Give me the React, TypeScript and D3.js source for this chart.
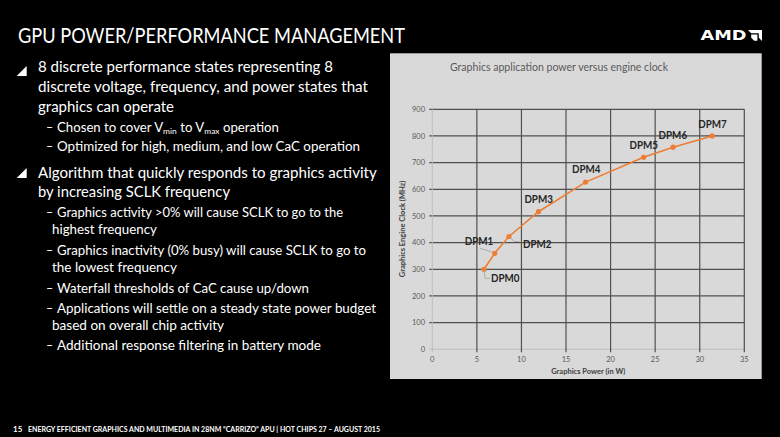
import React from "react";
import * as d3 from "d3";

// ---- Data ----
const states = ["DPM0", "DPM1", "DPM2", "DPM3", "DPM4", "DPM5", "DPM6", "DPM7"];
const powerW = [5.8, 7.0, 8.6, 11.9, 17.2, 23.7, 27.0, 31.4];
const clockMHz = [300, 360, 423, 516, 627, 720, 758, 800];
const xTicks = [0, 5, 10, 15, 20, 25, 30, 35];
const yTicks = [0, 100, 200, 300, 400, 500, 600, 700, 800, 900];

const chartTitle = "Graphics application power versus engine clock";
const xAxisTitle = "Graphics Power (in W)";
const yAxisTitle = "Graphics Engine Clock (MHz)";
const slideTitle = "GPU POWER/PERFORMANCE MANAGEMENT";
const footer = "ENERGY EFFICIENT GRAPHICS AND MULTIMEDIA IN 28NM \u201CCARRIZO\u201D APU | HOT CHIPS 27 \u2013 AUGUST 2015";

// label placement (layout, px offsets from the point)
const labelLayout = [
  { dx: 7, dy: 9.5, leader: [[0, 0], [1, 9], [6, 9]] },
  { dx: -30, dy: -12, leader: [[-15, -5], [-3, -1.3]] },
  { dx: 14, dy: 8, leader: [[1.5, 1.5], [5.5, 5], [10.5, 5]] },
  { dx: -14, dy: -12, leader: null },
  { dx: -13.7, dy: -12.4, leader: null },
  { dx: -14, dy: -11.7, leader: null },
  { dx: -14.4, dy: -11.7, leader: null },
  { dx: -14, dy: -11.7, leader: null },
];

const FONT = "Lato, 'Open Sans', sans-serif";

export default function App() {
  const W = 780, H = 437;
  const x = d3.scaleLinear().domain([0, 35]).range([432.3, 744.3]);
  const y = d3.scaleLinear().domain([0, 900]).range([349.3, 109.3]);
  const pts = powerW.map((p, i) => [x(p), y(clockMHz[i])] as [number, number]);
  const line = d3.line()(pts) || "";

  const mainLines = [
    { t: "8 discrete performance states representing 8", y: 71.7, w: 295 },
    { t: "discrete voltage, frequency, and power states that", y: 91.7, w: 330 },
    { t: "graphics can operate", y: 111.7, w: 136 },
    { t: "Algorithm that quickly responds to graphics activity", y: 177.5, w: 338.7 },
    { t: "by increasing SCLK frequency", y: 197, w: 192 },
  ];
  const subLines = [
    { t: "Optimized for high, medium, and low CaC operation", y: 151, w: 303, dash: true },
    { t: "Graphics activity >0% will cause SCLK to go to the", y: 217.3, w: 286, dash: true },
    { t: "highest frequency", y: 234.3, w: 105, dash: false },
    { t: "Graphics inactivity (0% busy) will cause SCLK to go to", y: 255, w: 309, dash: true },
    { t: "the lowest frequency", y: 271.7, w: 125, dash: false },
    { t: "Waterfall thresholds of CaC cause up/down", y: 292.7, w: 252, dash: true },
    { t: "Applications will settle on a steady state power budget", y: 312.7, w: 319, dash: true },
    { t: "based on overall chip activity", y: 330, w: 172, dash: false },
    { t: "Additional response filtering in battery mode", y: 350, w: 264, dash: true },
  ];

  return (
    <div style={{ position: "fixed", left: 0, top: 0 }}>
      <svg width={W} height={H} viewBox={`0 0 ${W} ${H}`} style={{ display: "block" }}>
        <rect width={W} height={H} fill="#000" />
        {/* slide title */}
        <text x={18} y={43} fill="#fff" fontFamily={FONT} fontSize={21} textLength={387} lengthAdjust="spacingAndGlyphs">
          {slideTitle}
        </text>
        {/* AMD logo */}
        <text x={700.5} y={40} fill="#fff" fontFamily="'DejaVu Sans', sans-serif" fontWeight="bold" fontSize={13.5} textLength={46} lengthAdjust="spacingAndGlyphs">
          AMD
        </text>
        <path d="M748,30 H762 V41 L758.8,37.8 V33.2 H751.2 Z" fill="#fff" />
        <path d="M751.2,34.6 H757.4 V40.8 H754.2 L751.2,37.8 Z" fill="#fff" />

        {/* bullets */}
        <path d="M16.7,76 L26.7,76 L26.7,66 Z" fill="#fff" />
        <path d="M16.7,178 L26.7,178 L26.7,168 Z" fill="#fff" />
        {mainLines.map((l, i) => (
          <text key={i} x={38} y={l.y} fill="#fff" fontFamily={FONT} fontSize={15} textLength={l.w} lengthAdjust="spacingAndGlyphs">
            {l.t}
          </text>
        ))}
        <text x={46} y={131.7} fill="#fff" fontFamily={FONT} fontSize={12.5}>{"\u2013"}</text>
        <text x={57} y={131.7} fill="#fff" fontFamily={FONT} fontSize={12.5} textLength={222} lengthAdjust="spacingAndGlyphs">
          Chosen to cover V<tspan fontSize={8} dy={2.5}>min</tspan><tspan dy={-2.5}> to V</tspan><tspan fontSize={8} dy={2.5}>max</tspan><tspan dy={-2.5}> operation</tspan>
        </text>
        {subLines.map((l, i) => (
          <g key={i}>
            {l.dash && (
              <text x={46} y={l.y} fill="#fff" fontFamily={FONT} fontSize={12.5}>{"\u2013"}</text>
            )}
            <text x={l.dash ? 57 : 52} y={l.y} fill="#fff" fontFamily={FONT} fontSize={12.5} textLength={l.w} lengthAdjust="spacingAndGlyphs">
              {l.t}
            </text>
          </g>
        ))}

        {/* footer */}
        <text x={13} y={431.5} fill="#fff" fontFamily={FONT} fontWeight="bold" fontSize={8}>15</text>
        <text x={28} y={431.5} fill="#fff" fontFamily={FONT} fontWeight="bold" fontSize={8} textLength={352} lengthAdjust="spacingAndGlyphs">
          {footer}
        </text>

        {/* chart panel */}
        <rect x={390} y={53.3} width={371.7} height={325.7} fill="#d9d9d9" />
        <text x={559} y={70.5} textAnchor="middle" fill="#595959" fontFamily={FONT} fontSize={10.5} textLength={218} lengthAdjust="spacingAndGlyphs">
          {chartTitle}
        </text>

        {/* gridlines */}
        {yTicks.map((t) => (
          <g key={"y" + t}>
            <line x1={x(0) - 3} x2={x(35)} y1={y(t)} y2={y(t)} stroke={t === 0 ? "#bdbdbd" : "#505050"} strokeWidth={t === 0 ? 1 : 1.2} />
            <text x={425} y={y(t)} dy="0.35em" textAnchor="end" fill="#595959" fontFamily={FONT} fontSize={7.5}>{t}</text>
          </g>
        ))}
        {xTicks.map((t) => (
          <g key={"x" + t}>
            <line x1={x(t)} x2={x(t)} y1={y(900)} y2={y(0) + 3} stroke={t === 0 ? "#bdbdbd" : "#505050"} strokeWidth={t === 0 ? 1 : 1.2} />
            <text x={x(t)} y={362} textAnchor="middle" fill="#595959" fontFamily={FONT} fontSize={7.5}>{t}</text>
          </g>
        ))}

        {/* axis titles */}
        <text x={588.3} y={373.5} textAnchor="middle" fill="#404040" fontFamily={FONT} fontWeight="bold" fontSize={7.5}>
          {xAxisTitle}
        </text>
        <text transform="translate(404.5,229) rotate(-90)" textAnchor="middle" fill="#404040" fontFamily={FONT} fontWeight="bold" fontSize={7.5}>
          {yAxisTitle}
        </text>

        {/* series */}
        <path d={line} fill="none" stroke="#ED7D31" strokeWidth={1.6} />
        {pts.map((p, i) => (
          <circle key={i} cx={p[0]} cy={p[1]} r={2.6} fill="#ED7D31" />
        ))}

        {/* data labels */}
        {states.map((s, i) => {
          const [px, py] = pts[i];
          const L = labelLayout[i];
          return (
            <g key={s}>
              {L.leader && (
                <polyline
                  points={L.leader.map((d) => `${px + d[0]},${py + d[1]}`).join(" ")}
                  fill="none"
                  stroke="#a6a6a6"
                  strokeWidth={0.9}
                />
              )}
              <text x={px + L.dx} y={py + L.dy} dy="0.35em" fill="#262626" fontFamily={FONT} fontWeight="bold" fontSize={10.5} textLength={28.5} lengthAdjust="spacingAndGlyphs">
                {s}
              </text>
            </g>
          );
        })}
      </svg>
    </div>
  );
}
